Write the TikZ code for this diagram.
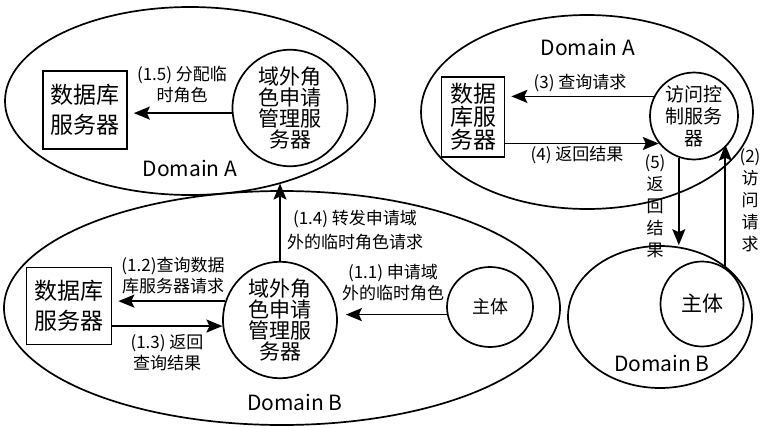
\documentclass[tikz,border=0pt]{standalone}
\usepackage{fontspec}
\setmainfont{Noto Sans CJK SC}
\usetikzlibrary{shapes.geometric,arrows.meta}
\tikzstyle{domarea}=[ellipse, draw, line width=0.85pt, inner sep=0pt]
\tikzstyle{srv}=[ellipse, draw, line width=0.85pt, inner sep=0pt, align=center, font=\fontsize{10.5}{10.5}\selectfont]
\tikzstyle{dbox}=[rectangle, draw, line width=0.85pt, inner sep=0pt, align=center, font=\fontsize{11.5}{15}\selectfont]
\tikzstyle{lbl}=[inner sep=0pt, align=center, font=\fontsize{8.5}{10.5}\selectfont]
\tikzstyle{vlbl}=[inner sep=0pt, align=center, font=\fontsize{8.5}{11}\selectfont]
\tikzstyle{dname}=[inner sep=0pt, font=\fontsize{10.5}{10.5}\selectfont]
\tikzstyle{arr}=[line width=0.85pt, -{Stealth[length=8pt,width=6.5pt,inset=1.5pt]}]

\begin{document}
\begin{tikzpicture}[x=0.5pt, y=-0.5pt]
\useasboundingbox (0,0) rectangle (760,428);

% domains
\node[domarea, minimum width=185pt, minimum height=94pt] (domA1) at (190,101) {};
\node[domarea, minimum width=166pt, minimum height=97pt] (domA2) at (587,112) {};
\node[domarea, minimum width=278pt, minimum height=117pt] (domB1) at (282,308) {};
\node[domarea, minimum width=92pt, minimum height=71pt] (domB2) at (660,317) {};

\node[dname] (tA1) at (190,168) {Domain A};
\node[dname] (tA2) at (588,47) {Domain A};
\node[dname] (tB1) at (295,402) {Domain B};
\node[dname] (tB2) at (662,363) {Domain B};

% servers
\node[dbox, minimum width=42pt, minimum height=39pt] (dbA1) at (85,110) {数据库\\服务器};
\node[dbox, minimum width=31.5pt, minimum height=40pt, font=\fontsize{11.5}{11.5}\selectfont] (dbA2) at (473,117) {数据\\库服\\务器};
\node[dbox, minimum width=42.5pt, minimum height=38.5pt] (dbB1) at (69,306) {数据库\\服务器};

\node[srv, minimum width=57.5pt, minimum height=49pt] (csA) at (290,108) {域外角\\色申请\\管理服\\务器};
\node[srv, minimum width=57pt, minimum height=55pt] (csB) at (280,320) {域外角\\色申请\\管理服\\务器};
\node[srv, minimum width=44pt, minimum height=41pt, font=\fontsize{9.5}{11}\selectfont] (acs) at (694,116) {访问控\\制服务\\器};
\node[srv, minimum width=43pt, minimum height=40pt, font=\fontsize{9}{9}\selectfont] (subj1) at (490,307) {主体};
\node[srv, minimum width=41.5pt, minimum height=42.5pt] (subj2) at (702,304) {主体};

% Domain A, left
\draw[arr, shorten >=3pt] (csA.185) -- (csA.185 -| dbA1.east);
\node[lbl] (l15) at (182,85) {(1.5) 分配临\\时角色};

% Domain B, left
\draw[arr, shorten >=3pt] (csB.161) -- (csB.161 -| dbB1.east);
\node[lbl] (l12) at (173,276) {(1.2)查询数据\\库服务器请求};
\draw[arr] (dbB1.east |- csB.186) -- (csB.186);
\node[lbl] (l13) at (167,353) {(1.3) 返回\\查询结果};
\draw[arr, shorten >=4pt] (subj1.190) -- (subj1.190 -| csB.east);
\node[lbl] (l11) at (393,283) {(1.1) 申请域\\外的临时角色};
\draw[arr] (csB.north) -- (csB.north |- domA1.-42);
\node[lbl, font=\fontsize{8.5}{12}\selectfont] (l14) at (355,230) {(1.4) 转发申请域\\外的临时角色请求};

% Domain A, right
\draw[arr, shorten >=3pt] (acs.154) -- (acs.154 -| dbA2.east);
\node[lbl] (l3) at (580,83) {(3) 查询请求};
\draw[arr] (dbA2.east |- acs.218) -- (acs.218);
\node[lbl] (l4) at (577,155) {(4) 返回结果};

% between the domains
\draw[arr] (acs.250) -- (acs.250 |- domB2.north);
\node[vlbl] (l5) at (655,206) {(5)\\返\\回\\结\\果};
\draw[arr] (domB2.38) -- (domB2.38 |- acs.320);
\node[vlbl] (l2) at (750,200) {(2)\\访\\问\\请\\求};

\end{tikzpicture}
\end{document}
